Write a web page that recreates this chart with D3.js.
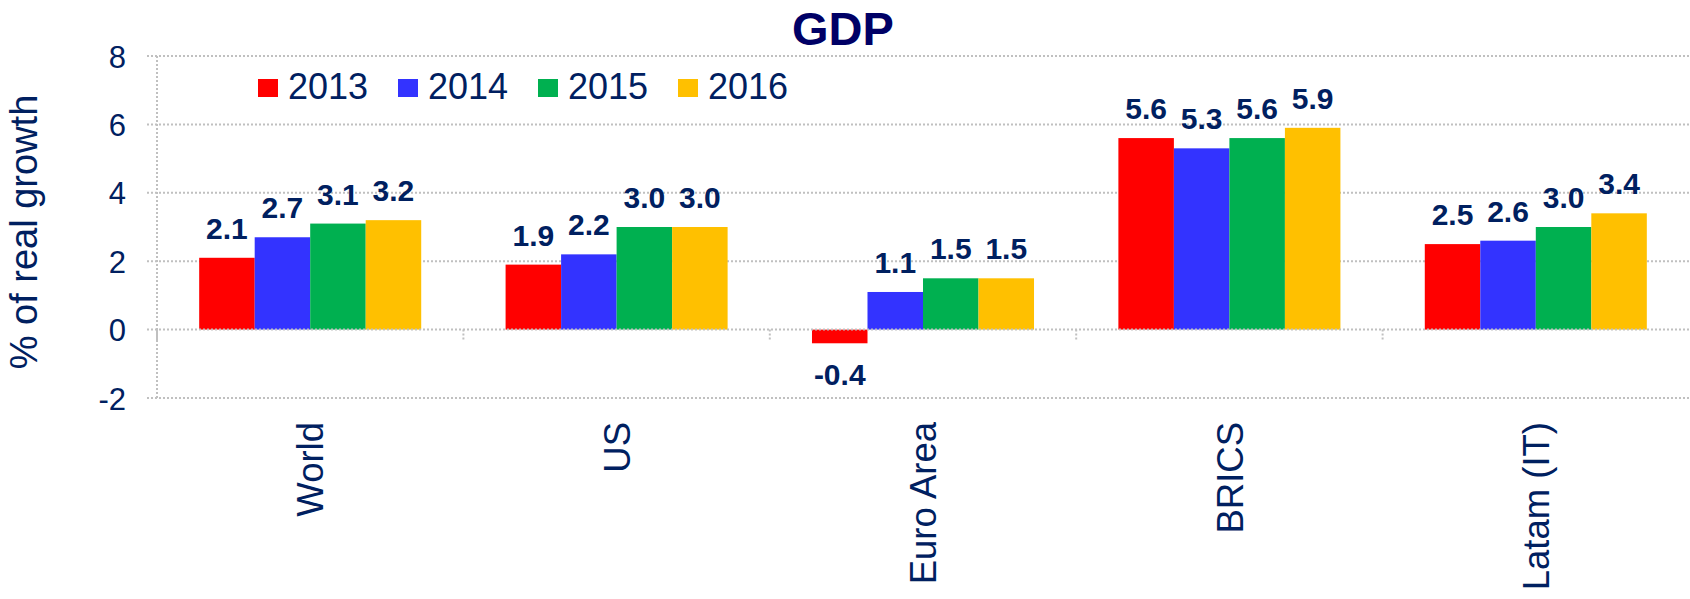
<!DOCTYPE html>
<html>
<head>
<meta charset="utf-8">
<script src="https://cdn.jsdelivr.net/npm/d3@7"></script>
<style>
  html, body { margin: 0; padding: 0; background: #fff; }
  svg { display: block; }
  text { font-family: "Liberation Sans", Arial, sans-serif; }
</style>
</head>
<body>
<svg id="chart" width="1690" height="599"></svg>
<script>
// ---- data ----
const categories = ["World", "US", "Euro Area", "BRICS", "Latam (IT)"];
const years = ["2013", "2014", "2015", "2016"];
const values2013 = [2.1, 1.9, -0.4, 5.6, 2.5];
const values2014 = [2.7, 2.2, 1.1, 5.3, 2.6];
const values2015 = [3.1, 3.0, 1.5, 5.6, 3.0];
const values2016 = [3.2, 3.0, 1.5, 5.9, 3.4];
const yTicks = [-2, 0, 2, 4, 6, 8];
const titleText = "GDP";
const yAxisTitle = "% of real growth";

const seriesValues = [values2013, values2014, values2015, values2016];
const colors = ["#FF0000", "#3333FF", "#00B050", "#FFC000"];
const textColor = "#002060";
const gridColor = "#c0c0c0";

const locale = d3.formatLocale({ decimal: ".", thousands: ",", grouping: [3], currency: ["$", ""], minus: "-" });
const fmtVal = locale.format(".1f");
const fmtTick = locale.format("d");

const svg = d3.select("#chart");
const pLeft = 157, pRight = 1689, pTop = 56, pBottom = 398;

const x0 = d3.scaleBand().domain(categories).range([pLeft, pRight]).paddingInner(0).paddingOuter(0);
const x1 = d3.scaleBand().domain(years).range([0, x0.bandwidth()]).paddingInner(0).paddingOuter(0.76);
const y = d3.scaleLinear().domain([-2, 8]).range([pBottom, pTop]);
const color = d3.scaleOrdinal().domain(years).range(colors);

// gridlines
svg.append("g").selectAll("line").data(yTicks.filter(d => d !== 0)).join("line")
  .attr("x1", pLeft - 10).attr("x2", pRight)
  .attr("y1", d => y(d)).attr("y2", d => y(d))
  .attr("stroke", gridColor).attr("stroke-width", 2).attr("stroke-dasharray", "2,2");

// y axis line (dotted)
svg.append("line")
  .attr("x1", pLeft).attr("x2", pLeft).attr("y1", pTop).attr("y2", pBottom)
  .attr("stroke", gridColor).attr("stroke-width", 2).attr("stroke-dasharray", "2,2");

// y tick labels
const yAxis = d3.axisLeft(y).tickValues(yTicks).tickFormat(fmtTick).tickSize(0).tickPadding(0);
const gy = svg.append("g").attr("transform", `translate(${pLeft - 31},0)`).call(yAxis);
gy.select(".domain").remove();
gy.selectAll("text")
  .attr("fill", textColor)
  .style("font-size", "31px")
  .style("font-family", "'Liberation Sans', Arial, sans-serif")
  .attr("dy", "0.36em");

// bars
const rows = categories.map((c, i) => ({ cat: c, vals: years.map((yr, j) => ({ year: yr, v: seriesValues[j][i] })) }));
const groups = svg.append("g").selectAll("g").data(rows).join("g")
  .attr("transform", d => `translate(${x0(d.cat)},0)`);

groups.selectAll("rect").data(d => d.vals).join("rect")
  .attr("x", d => x1(d.year))
  .attr("width", x1.bandwidth())
  .attr("y", d => y(Math.max(0, d.v)))
  .attr("height", d => Math.abs(y(d.v) - y(0)))
  .attr("fill", d => color(d.year));

// data labels
groups.selectAll("text.val").data(d => d.vals).join("text")
  .attr("class", "val")
  .attr("x", d => x1(d.year) + x1.bandwidth() / 2)
  .attr("y", d => d.v >= 0 ? y(d.v) - 19 : y(d.v) + 20)
  .attr("dy", d => d.v >= 0 ? "0" : "0.72em")
  .attr("text-anchor", "middle")
  .attr("fill", textColor)
  .style("font-size", "30px")
  .style("font-weight", "bold")
  .text(d => fmtVal(d.v));

// zero line (on top of bars)
svg.append("line")
  .attr("x1", pLeft - 10).attr("x2", pRight).attr("y1", y(0)).attr("y2", y(0))
  .attr("stroke", gridColor).attr("stroke-width", 2).attr("stroke-dasharray", "2,2");

// category tick marks
const bounds = categories.map(c => x0(c)).concat([pRight]);
svg.append("g").selectAll("line").data(bounds.slice(1, -1)).join("line")
  .attr("x1", d => d).attr("x2", d => d)
  .attr("y1", y(0)).attr("y2", y(0) + 10)
  .attr("stroke", gridColor).attr("stroke-width", 2).attr("stroke-dasharray", "2,2");
svg.append("line")
  .attr("x1", pLeft).attr("x2", pLeft).attr("y1", y(0)).attr("y2", y(0) + 12)
  .attr("stroke", gridColor).attr("stroke-width", 2);

// category labels (rotated)
svg.append("g").selectAll("text").data(categories).join("text")
  .attr("transform", d => `translate(${x0(d) + x0.bandwidth() / 2},${pBottom + 24}) rotate(-90)`)
  .attr("text-anchor", "end")
  .attr("dy", "0.36em")
  .attr("fill", textColor)
  .style("font-size", "36.5px")
  .text(d => d);

// y axis title
svg.append("text")
  .attr("transform", `translate(23,${(pTop + pBottom) / 2 + 5}) rotate(-90)`)
  .attr("text-anchor", "middle")
  .attr("dy", "0.36em")
  .attr("fill", textColor)
  .style("font-size", "38px")
  .text(yAxisTitle);

// title
svg.append("text")
  .attr("x", 843).attr("y", 45)
  .attr("text-anchor", "middle")
  .attr("fill", "#000066")
  .style("font-size", "47px")
  .style("font-weight", "bold")
  .text(titleText);

// legend
const legend = svg.append("g").selectAll("g").data(years).join("g")
  .attr("transform", (d, i) => `translate(${258 + i * 140},79)`);
legend.append("rect").attr("width", 20).attr("height", 18).attr("fill", d => color(d));
legend.append("text")
  .attr("x", 30).attr("y", 20)
  .attr("fill", textColor)
  .style("font-size", "36px")
  .text(d => d);
</script>
</body>
</html>
